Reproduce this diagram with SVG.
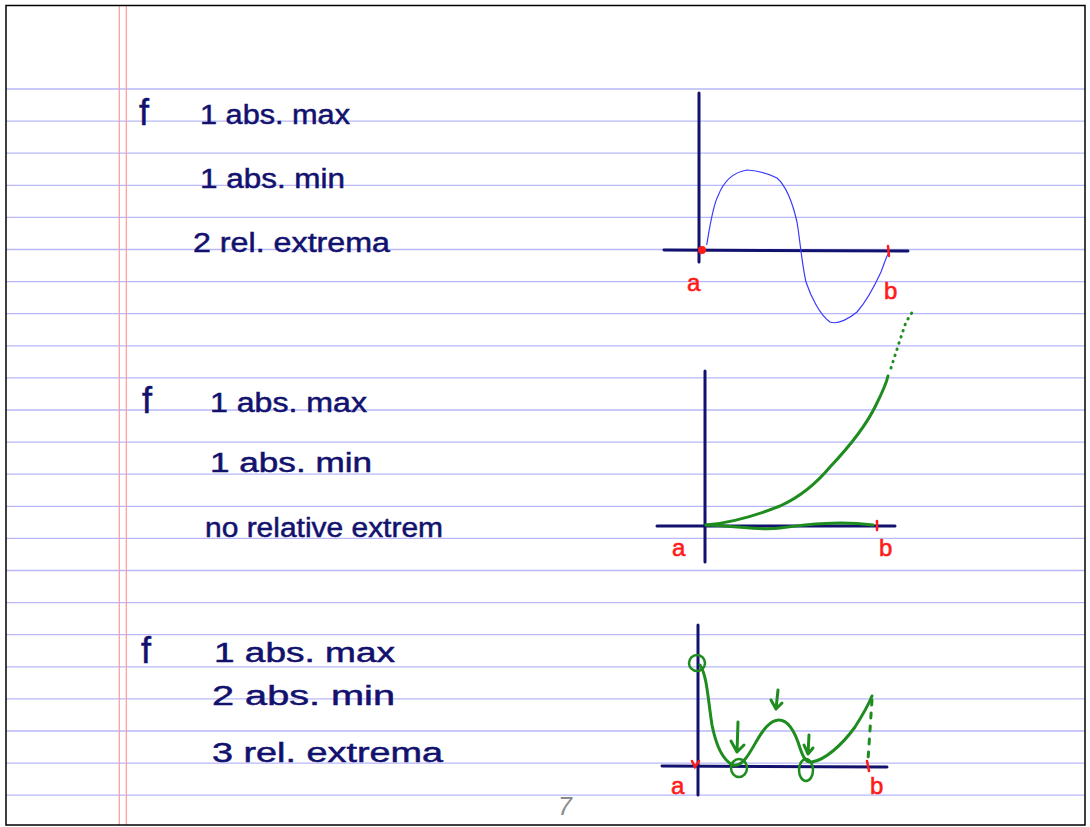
<svg xmlns="http://www.w3.org/2000/svg" width="1090" height="827" viewBox="0 0 1090 827">
<style>
.rule{stroke:#b8b8f8;stroke-width:1.3;fill:none}
.margin{stroke:#ff9a9a;stroke-width:1.2;fill:none}
.hw{font-family:"Liberation Sans","DejaVu Sans",sans-serif;font-size:27px;fill:#12126e;stroke:#12126e;stroke-width:0.5}
.ff{font-family:"Liberation Sans","DejaVu Sans",sans-serif;font-size:36px;fill:#12126e;stroke:#12126e;stroke-width:0.5}
.lbl{font-family:"Liberation Sans","DejaVu Sans",sans-serif;font-size:24px;fill:#ff1a1a;stroke:#ff1a1a;stroke-width:0.6}
.axis{stroke:#12126e;stroke-width:3;fill:none;stroke-linecap:round}
.blue{stroke:#3a3aff;stroke-width:1.2;fill:none}
.green{stroke:#1e8c1e;stroke-width:3;fill:none;stroke-linecap:round;stroke-linejoin:round}
.red{stroke:#ff1a1a;stroke-width:2.5;fill:none;stroke-linecap:round}
</style>
<rect x="0" y="0" width="1090" height="827" fill="#ffffff"/>
<g id="paper">
<g class="rule">
<line x1="6" y1="89" x2="1085" y2="89"/>
<line x1="6" y1="121.1" x2="1085" y2="121.1"/>
<line x1="6" y1="153.2" x2="1085" y2="153.2"/>
<line x1="6" y1="185.3" x2="1085" y2="185.3"/>
<line x1="6" y1="217.4" x2="1085" y2="217.4"/>
<line x1="6" y1="249.5" x2="1085" y2="249.5"/>
<line x1="6" y1="281.6" x2="1085" y2="281.6"/>
<line x1="6" y1="313.7" x2="1085" y2="313.7"/>
<line x1="6" y1="345.8" x2="1085" y2="345.8"/>
<line x1="6" y1="377.9" x2="1085" y2="377.9"/>
<line x1="6" y1="410" x2="1085" y2="410"/>
<line x1="6" y1="442.1" x2="1085" y2="442.1"/>
<line x1="6" y1="474.2" x2="1085" y2="474.2"/>
<line x1="6" y1="506.3" x2="1085" y2="506.3"/>
<line x1="6" y1="538.4" x2="1085" y2="538.4"/>
<line x1="6" y1="570.5" x2="1085" y2="570.5"/>
<line x1="6" y1="602.6" x2="1085" y2="602.6"/>
<line x1="6" y1="634.7" x2="1085" y2="634.7"/>
<line x1="6" y1="666.8" x2="1085" y2="666.8"/>
<line x1="6" y1="698.9" x2="1085" y2="698.9"/>
<line x1="6" y1="731" x2="1085" y2="731"/>
<line x1="6" y1="763.1" x2="1085" y2="763.1"/>
<line x1="6" y1="795.2" x2="1085" y2="795.2"/>
</g>
<line class="margin" x1="119.3" y1="6" x2="119.3" y2="825"/>
<line class="margin" x1="126.3" y1="6" x2="126.3" y2="825"/>
<rect x="6" y="5.5" width="1079" height="819.5" fill="none" stroke="#000" stroke-width="1.5"/>
<text x="558" y="815" font-family="Liberation Sans,sans-serif" font-size="25" fill="#8a8a8a" font-style="italic">7</text>
</g>
<g id="notes1">
<text class="ff" x="139" y="125">f</text>
<text class="hw" x="200" y="124" textLength="150" lengthAdjust="spacingAndGlyphs">1 abs. max</text>
<text class="hw" x="200" y="188" textLength="145" lengthAdjust="spacingAndGlyphs">1 abs. min</text>
<text class="hw" x="193" y="252" textLength="197" lengthAdjust="spacingAndGlyphs">2 rel. extrema</text>
</g>
<g id="notes2">
<text class="ff" x="142" y="413">f</text>
<text class="hw" x="210" y="412" textLength="157" lengthAdjust="spacingAndGlyphs">1 abs. max</text>
<text class="hw" x="210" y="472" textLength="162" lengthAdjust="spacingAndGlyphs">1 abs. min</text>
<text class="hw" x="205" y="537" textLength="238" lengthAdjust="spacingAndGlyphs">no relative extrem</text>
</g>
<g id="notes3">
<text class="ff" x="141" y="663">f</text>
<text class="hw" x="214" y="662" textLength="181" lengthAdjust="spacingAndGlyphs">1 abs. max</text>
<text class="hw" x="212" y="705" textLength="183" lengthAdjust="spacingAndGlyphs">2 abs. min</text>
<text class="hw" x="212" y="762" textLength="231" lengthAdjust="spacingAndGlyphs">3 rel. extrema</text>
</g>
<g id="graph1">
<line class="axis" x1="699" y1="93" x2="699" y2="262"/>
<line class="axis" x1="664" y1="250" x2="908" y2="251"/>
<path class="blue" d="M706.7,245 C710,225 713,205 718,196 C724,180 735,172 747,170 C760,171 770,174 777,178 C786,186 792,200 797,222 C800,240 802,265 806,282 C811,297 820,315 830,322 C838,325 850,318 857,312 C866,302 875,285 881,272 C884,264 886,258 888,254"/>
<circle cx="702" cy="250" r="4" fill="#ff1a1a"/>
<line class="red" x1="888" y1="246" x2="889" y2="256"/>
<text class="lbl" x="687" y="291">a</text>
<text class="lbl" x="884" y="299">b</text>
</g>
<g id="graph2">
<line class="axis" x1="705" y1="371" x2="705" y2="562"/>
<line class="axis" x1="657" y1="526" x2="895" y2="526"/>
<path class="green" d="M706,525 C730,523 755,516 780,506 C800,497 815,485 830,467 C848,448 865,428 876,405 C882,393 886,385 888,376"/>
<path class="green" d="M706,525 C740,526 760,531 780,528 C810,524 840,521 873,525"/>
<path class="green" stroke-dasharray="0.5,6" d="M891,368 L899,343 L906,322 L913,311"/>
<line class="red" x1="877" y1="521" x2="877" y2="530" stroke-width="2"/>
<text class="lbl" x="672" y="556">a</text>
<text class="lbl" x="879" y="556">b</text>
</g>
<g id="graph3">
<line class="axis" x1="698" y1="625" x2="698" y2="795"/>
<line class="axis" x1="662" y1="766" x2="887" y2="767"/>
<path class="green" d="M700,665 C707,675 708,700 712,725 C716,745 722,760 733,765 C742,767 748,756 756,742 C763,730 770,720 779,720 C790,720 796,735 800,748 C803,757 806,763 812,762 C825,760 842,745 855,727 C862,716 868,706 872,696"/>
<circle cx="697" cy="663" r="8" fill="none" stroke="#1e8c1e" stroke-width="2.5"/>
<ellipse cx="739" cy="768" rx="8" ry="9" fill="none" stroke="#1e8c1e" stroke-width="2.5"/>
<ellipse cx="806" cy="770" rx="7" ry="11" fill="none" stroke="#1e8c1e" stroke-width="2.5"/>
<path class="green" stroke-width="2.5" d="M738,722 L737,752 M731,741 L737,752 L744,745"/>
<path class="green" stroke-width="2.5" d="M778,690 L776,709 M771,700 L776,709 L782,703"/>
<path class="green" stroke-width="2.5" d="M809,735 L808,754 M804,745 L808,754 L813,748"/>
<path class="green" stroke-width="2.5" stroke-dasharray="5,8" d="M872,700 L868,760"/>
<path class="red" stroke-width="2.5" d="M692,761 L695,767 L699,761"/>
<line class="red" x1="867" y1="761" x2="869" y2="771"/>
<text class="lbl" x="671" y="794">a</text>
<text class="lbl" x="870" y="794">b</text>
</g>
</svg>
